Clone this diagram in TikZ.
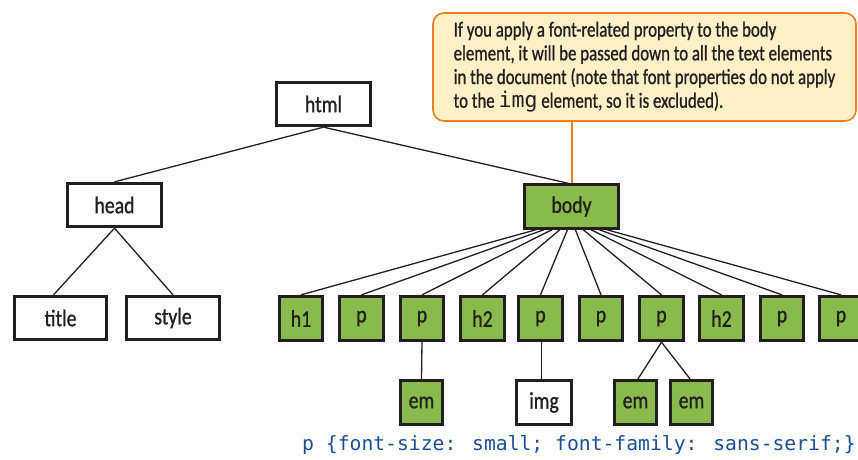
\documentclass[tikz,border=0pt]{standalone}
\usepackage{fontspec}
\setmainfont{Carlito}[FakeStretch=0.83,FakeBold=0.9]
\newfontfamily\notefont{Carlito}[FakeStretch=0.78,FakeBold=0.9]
\newfontfamily\codefont{DejaVu Sans Mono}
\usetikzlibrary{calc}
\definecolor{boxgreen}{RGB}{137,187,76}
\definecolor{boxline}{RGB}{35,31,32}
\definecolor{notefill}{RGB}{255,240,200}
\definecolor{noteline}{RGB}{242,125,30}
\definecolor{codeblue}{RGB}{28,78,148}
\begin{document}
\begin{tikzpicture}[x=1pt,y=-1pt,
  box/.style={draw=boxline, line width=2.8pt, inner sep=0pt, text=boxline,
    font=\fontsize{23.8}{27}\selectfont},
  bigbox/.style={box, minimum width=94pt, minimum height=43.5pt},
  smallbox/.style={box, minimum width=43.5pt, minimum height=44.5pt},
  greenbox/.style={fill=boxgreen},
  whitebox/.style={fill=white},
  edge/.style={line width=1.3pt, draw=boxline},
  notebox/.style={draw=noteline, line width=1.6pt, fill=notefill, rounded corners=11pt,
    minimum width=423pt, minimum height=108pt, align=left, inner sep=0pt, text=boxline,
    font=\notefont\fontsize{21.6}{23.7}\selectfont},
  pointer/.style={draw=noteline, line width=2pt},
  codetext/.style={anchor=base west, inner sep=0pt, text=codeblue,
    font=\codefont\fontsize{19.7}{22}\selectfont}
]
\useasboundingbox (0,0) rectangle (858,459);

% top levels
\node[bigbox,whitebox] (html) at (323.5,104) {html};
\node[bigbox,whitebox] (head) at (114.5,205) {head};
\node[bigbox,greenbox] (body) at (571.5,206.5) {body};
\node[bigbox,whitebox,minimum width=92.5pt] (title) at (60.5,318) {title};
\node[bigbox,whitebox,minimum width=93.5pt] (style) at (173,318) {style};

% body children
\node[smallbox,greenbox] (c1) at (301,318.5) {h1};
\node[smallbox,greenbox] (c2) at (361.5,318.5) {p};
\node[smallbox,greenbox] (c3) at (422,318.5) {p};
\node[smallbox,greenbox] (c4) at (482.5,318.5) {h2};
\node[smallbox,greenbox] (c5) at (540.5,318.5) {p};
\node[smallbox,greenbox] (c6) at (601,318.5) {p};
\node[smallbox,greenbox] (c7) at (661.5,318.5) {p};
\node[smallbox,greenbox] (c8) at (721.5,318.5) {h2};
\node[smallbox,greenbox] (c9) at (782,318.5) {p};
\node[smallbox,greenbox] (c10) at (841,318.5) {p};

% third level
\node[smallbox,greenbox,minimum width=42.5pt] (em1) at (421.5,402.5) {em};
\node[smallbox,whitebox,minimum width=55.5pt] (img) at (544,402.5) {img};
\node[smallbox,greenbox,minimum width=42.5pt] (em2) at (635.5,402.5) {em};
\node[smallbox,greenbox,minimum width=42.5pt] (em3) at (691.5,402.5) {em};

% connectors
\draw[edge] (html.south) -- (head.north);
\draw[edge] (html.south) -- ([xshift=-3pt]body.north);
\draw[edge] (head.south) -- ([xshift=-7pt]title.north);
\draw[edge] (head.south) -- (style.north);
\foreach \c in {c1,c2,c3,c4,c5,c6,c7,c8,c9,c10}{
  \draw[edge] let \p1=(body.south), \p2=(\c.north) in
    ({\x1+0.13*(\x2-\x1)},\y1) -- (\p2);
}
\draw[edge] (c3.south) -- (em1.north);
\draw[edge] ([xshift=1pt]c5.south) -- ([xshift=1pt]c5.south |- img.north);
\draw[edge] (c7.south) -- ([xshift=2.5pt]em2.north);
\draw[edge] (c7.south) -- ([xshift=-1.5pt]em3.north);

% callout
\node[notebox] (note) at (644.5,67)
  {If you apply a font-related property to the body\\
   element, it will be passed down to all the text elements\\
   in the document (note that font properties do not apply\\
   to the {\codefont img} element, so it is excluded).};
\draw[pointer] (note.south -| body.north) -- (body.north);

% css rule
\node[codetext] (code) at (302,450) {p \{font-size: small; font-family: sans-serif;\}};
\end{tikzpicture}
\end{document}
